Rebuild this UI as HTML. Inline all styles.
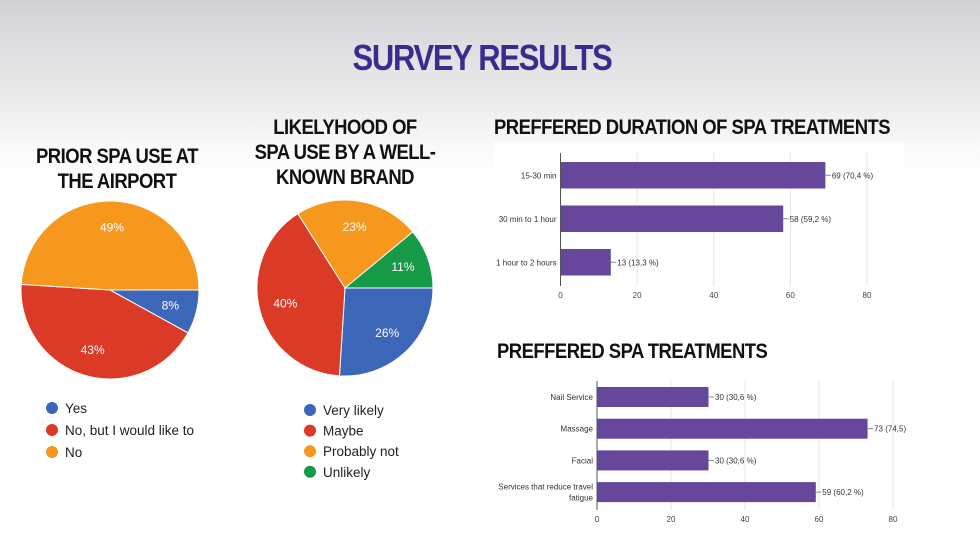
<!DOCTYPE html>
<html><head><meta charset="utf-8">
<style>
html,body{margin:0;padding:0}
body{width:980px;height:545px;position:relative;overflow:hidden;font-family:"Liberation Sans",sans-serif;
background:linear-gradient(to bottom,#d2d2d4 0px,#e2e2e4 60px,#eeeeef 110px,#fafafa 150px,#ffffff 185px,#ffffff 545px);}
.t{position:absolute;font-weight:bold;color:#111;letter-spacing:-0.6px;text-align:center;line-height:25px;font-size:21px;white-space:nowrap;transform:scaleX(0.88)}
svg{position:absolute;left:0;top:0}
</style></head>
<body>
<div class="t" style="left:0;width:964px;top:38px;font-size:36px;line-height:40px;color:#3d2a8e;letter-spacing:-1.5px;transform:scaleX(0.86)">SURVEY RESULTS</div>
<div class="t" style="left:7px;width:220px;top:144px">PRIOR SPA USE AT<br>THE AIRPORT</div>
<div class="t" style="left:235px;width:220px;top:115px">LIKELYHOOD OF<br>SPA USE BY A WELL-<br>KNOWN BRAND</div>
<div class="t" style="left:494px;width:460px;top:115px;text-align:left;transform-origin:0 0">PREFFERED DURATION OF SPA TREATMENTS</div>
<div class="t" style="left:497px;width:400px;top:339px;text-align:left;transform-origin:0 0">PREFFERED SPA TREATMENTS</div>
<svg id="s" width="980" height="545"></svg>
<script>
const pie1Labels=["Yes","No, but I would like to","No"];
const pie1Values=[8,43,49];
const pie2Labels=["Very likely","Maybe","Probably not","Unlikely"];
const pie2Values=[26,40,23,11];
const bar1Cats=["15-30 min","30 min to 1 hour","1 hour to 2 hours"];
const bar1Vals=[69,58,13];
const bar1Pct=["70,4 %","59,2 %","13,3 %"];
const bar2Cats=[["Nail Service"],["Massage"],["Facial"],["Services that reduce travel","fatigue"]];
const bar2Vals=[30,73,30,59];
const bar2Pct=["30,6 %","74,5","30,6 %","60,2 %"];
const xTicks=[0,20,40,60,80];
const colors=["#3c66b7","#db3a27","#f5981d","#169a48"];
const NS="http://www.w3.org/2000/svg";
const s=document.getElementById('s');
function mk(tag,a,txt){const e=document.createElementNS(NS,tag);for(const k in a)e.setAttribute(k,a[k]);if(txt!==undefined)e.textContent=txt;s.appendChild(e);return e;}
function pie(cx,cy,r,labels,vals,name,lx,ly,lstep){
  const tot=vals.reduce((a,b)=>a+b,0);let a0=0;
  vals.forEach((v,i)=>{
    const a1=a0+v/tot*2*Math.PI;
    const p=`M${cx},${cy}L${cx+r*Math.cos(a0)},${cy+r*Math.sin(a0)}A${r},${r} 0 ${a1-a0>Math.PI?1:0} 1 ${cx+r*Math.cos(a1)},${cy+r*Math.sin(a1)}Z`;
    const sl=mk('path',{d:p,fill:colors[i],stroke:'#fff','stroke-width':1});
    
    
    const m=(a0+a1)/2,rr=r*0.7;
    const t=mk('text',{x:cx+rr*Math.cos(m),y:cy+rr*Math.sin(m)+4,'text-anchor':'middle','font-size':12,fill:'#fff'},Math.round(v/tot*100)+'%');
    
    
    const d=mk('circle',{cx:lx,cy:ly+i*lstep,r:6,fill:colors[i]});
    
    
    const lt=mk('text',{x:lx+13,y:ly+i*lstep+5,'font-size':13.5,fill:'#222'},labels[i]);
    
    
    a0=a1;
  });
}
pie(110,290,89,pie1Labels,pie1Values,'pie1',52,408,22);
pie(345,288,88,pie2Labels,pie2Values,'pie2',310,410,20.6);
function bar(x0,x80,top,bottom,barTop,barH,step,cats,vals,pct,name){
  const sx=v=>x0+(x80-x0)*v/80;
  xTicks.forEach(t=>{
    if(t>0){const g=mk('line',{x1:sx(t),x2:sx(t),y1:top,y2:bottom,stroke:'#e6e6e6'});}
    const tl=mk('text',{x:sx(t),y:bottom+12,'text-anchor':'middle','font-size':8,fill:'#444'},t);
    
    
  });
  const ax=mk('line',{x1:x0,x2:x0,y1:top,y2:bottom,stroke:'#555','stroke-width':1});
  
  
  vals.forEach((v,i)=>{
    const y=barTop+i*step;
    const b=mk('rect',{x:x0+0.5,y:y,width:sx(v)-x0,height:barH,fill:'#66479c'});
    
    
    mk('line',{x1:sx(v),x2:sx(v)+6,y1:y+barH/2,y2:y+barH/2,stroke:'#888'});
    const vl=mk('text',{x:sx(v)+7,y:y+barH/2+3,'font-size':8,fill:'#333'},v+' ('+pct[i]+')');
    
    
    const lines=Array.isArray(cats[i])?cats[i]:[cats[i]];
    lines.forEach((ln,j)=>{
      const cl=mk('text',{x:x0-4,y:y+barH/2+3+(j-(lines.length-1)/2)*11,'text-anchor':'end','font-size':8,fill:'#333'},ln);
      
      
    });
  });
}
mk('rect',{x:494,y:142,width:410,height:165,fill:'#fff'});
mk('rect',{x:494,y:372,width:420,height:162,fill:'#fff'});
bar(560.5,867,153,286,162,26.5,43.5,bar1Cats,bar1Vals,bar1Pct,'duration-chart');
bar(597,893,381,510,387,20,31.7,bar2Cats,bar2Vals,bar2Pct,'treatments-chart');
</script>
</body></html>
